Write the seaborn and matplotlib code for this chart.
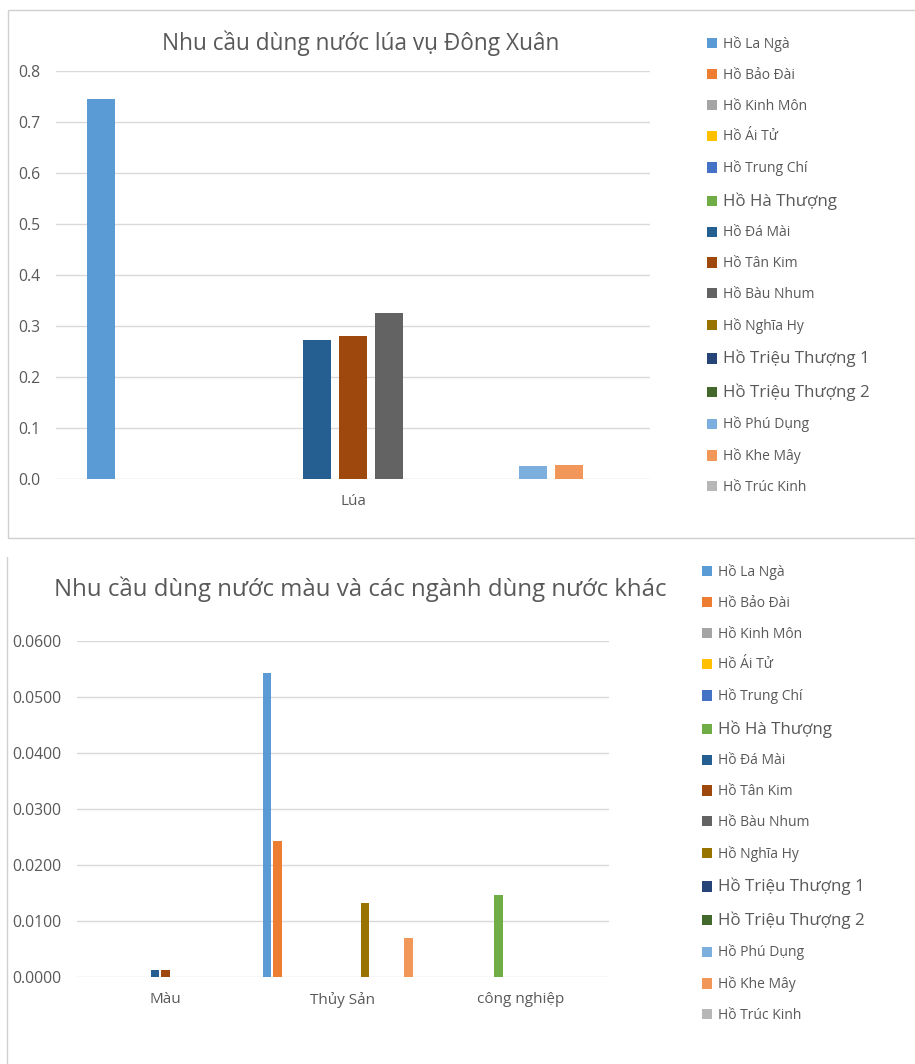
import matplotlib
matplotlib.use("Agg")
import matplotlib.pyplot as plt
from matplotlib.patches import Rectangle
from matplotlib.lines import Line2D
from matplotlib.ticker import FormatStrFormatter
import seaborn as sns
import pandas as pd

# Danh sách hồ (thứ tự chú giải)
ho = ["Hồ La Ngà", "Hồ Bảo Đài", "Hồ Kinh Môn", "Hồ Ái Tử", "Hồ Trung Chí",
      "Hồ Hà Thượng", "Hồ Đá Mài", "Hồ Tân Kim", "Hồ Bàu Nhum", "Hồ Nghĩa Hy",
      "Hồ Triệu Thượng 1", "Hồ Triệu Thượng 2", "Hồ Phú Dụng", "Hồ Khe Mây",
      "Hồ Trúc Kinh"]
mau_ho = ["#5B9BD5", "#ED7D31", "#A5A5A5", "#FFC000", "#4472C4",
          "#70AD47", "#255E91", "#9E480E", "#636363", "#997300",
          "#264478", "#43682B", "#7CAFDD", "#F1975A", "#B7B7B7"]

# Biểu đồ 1: lúa vụ Đông Xuân
loai_1 = ["Lúa"]
lua = [0.745, 0, 0, 0, 0, 0, 0.272, 0.281, 0.325, 0, 0, 0, 0.025, 0.028, 0]

# Biểu đồ 2: màu, thủy sản, công nghiệp
loai_2 = ["Màu", "Thủy Sản", "công nghiệp"]
mau = [0, 0, 0, 0, 0, 0, 0.0012, 0.0012, 0, 0, 0, 0, 0, 0, 0]
thuy_san = [0.0543, 0.0243, 0, 0, 0, 0, 0, 0, 0, 0.0132, 0, 0, 0, 0.0070, 0]
cong_nghiep = [0, 0, 0, 0, 0, 0.0146, 0, 0, 0, 0, 0, 0, 0, 0, 0]

to_lon = ["Hồ Hà Thượng", "Hồ Triệu Thượng 1", "Hồ Triệu Thượng 2"]

df1 = pd.DataFrame({"loai": loai_1[0], "ho": ho, "gia_tri": lua})
df2 = pd.concat([
    pd.DataFrame({"loai": loai_2[0], "ho": ho, "gia_tri": mau}),
    pd.DataFrame({"loai": loai_2[1], "ho": ho, "gia_tri": thuy_san}),
    pd.DataFrame({"loai": loai_2[2], "ho": ho, "gia_tri": cong_nghiep}),
])

sns.set_style("white")
plt.rcParams["font.family"] = ["Open Sans", "DejaVu Sans"]
xam = "#595959"

W, H = 915, 1064
fig = plt.figure(figsize=(W / 100, H / 100), dpi=100)


def truc(x0, y0, x1, y1):
    return fig.add_axes([x0 / W, 1 - y1 / H, (x1 - x0) / W, (y1 - y0) / H])


def ve(ax, df, order, width, gap, ylim, fmt, leg_x, leg_y):
    sns.barplot(data=df, x="loai", y="gia_tri", hue="ho", order=order,
                hue_order=ho, palette=mau_ho, width=width, gap=gap,
                saturation=1, errorbar=None, linewidth=0, ax=ax)
    ax.set_ylim(*ylim)
    ax.set_xlabel("")
    ax.set_ylabel("")
    ax.yaxis.set_major_formatter(FormatStrFormatter(fmt))
    ax.grid(axis="y", color="#D9D9D9", linewidth=1)
    ax.set_axisbelow(True)
    for s in ax.spines.values():
        s.set_visible(False)
    ax.tick_params(length=0, colors=xam)
    ax.tick_params(axis="y", pad=11, labelsize=11.3)
    ax.tick_params(axis="x", pad=11, labelsize=11)
    sns.move_legend(ax, "upper left", bbox_to_anchor=(leg_x / W, 1 - leg_y / H),
                    bbox_transform=fig.transFigure, frameon=False, title=None,
                    fontsize=10, handlelength=0.75, handleheight=0.75,
                    handletextpad=0.4, labelspacing=1.14, borderpad=0,
                    borderaxespad=0)
    for t in ax.get_legend().get_texts():
        t.set_color(xam)
        if t.get_text() in to_lon:
            t.set_fontsize(12.2)


ax1 = truc(56, 71, 650, 479)
ve(ax1, df1, loai_1, 1.0, 0.2, (0, 0.8), "%.1f", 707, 36)
ax1.set_xlim(-0.55, 0.55)
ax1.set_yticks([0, 0.1, 0.2, 0.3, 0.4, 0.5, 0.6, 0.7, 0.8])

ax2 = truc(77, 641, 609, 977)
ve(ax2, df2, loai_2, 0.92, 0.22, (0, 0.06), "%.4f", 702, 564)
ax2.set_xlim(-0.5, 2.5)
ax2.set_yticks([0, 0.01, 0.02, 0.03, 0.04, 0.05, 0.06])

fig.text(361 / W, 1 - 43 / H, "Nhu cầu dùng nước lúa vụ Đông Xuân",
         ha="center", va="center", fontsize=16.3, color=xam)
fig.text(360 / W, 1 - 589 / H, "Nhu cầu dùng nước màu và các ngành dùng nước khác",
         ha="center", va="center", fontsize=17.3, color=xam)

# khung biểu đồ
fig.patches.append(Rectangle((8 / W, 1 - 538 / H), 930 / W, 528 / H,
                             transform=fig.transFigure, fill=False,
                             edgecolor="#D0D0D0", linewidth=1))
fig.lines.append(Line2D([7 / W, 7 / W], [1 - 557 / H, 0],
                        transform=fig.transFigure, color="#D0D0D0", linewidth=1))

fig.savefig("out.png", dpi=100)
